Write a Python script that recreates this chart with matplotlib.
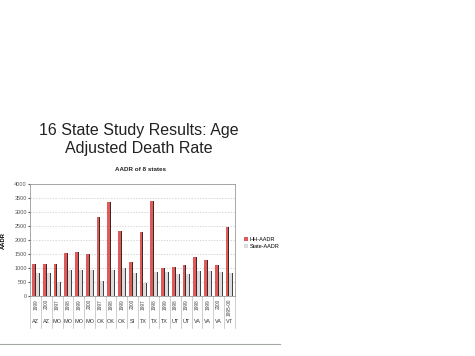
import numpy as np
import matplotlib.pyplot as plt
import matplotlib.transforms as mtransforms

plt.rcParams['font.family'] = ['Liberation Sans', 'DejaVu Sans']

## Category labels (two levels: year / state)
states = ['AZ', 'AZ', 'MO', 'MO', 'MO', 'MO', 'OK', 'OK', 'OK', 'SI',
          'TX', 'TX', 'TX', 'UT', 'UT', 'VA', 'VA', 'VA', 'VT']
years = ['1999', '2000', '1997', '1998', '1999', '2000', '1997', '1998', '1999', '2000',
         '1997', '1998', '1999', '1998', '1999', '1998', '1999', '2000', '1995-00']

## Values
hh_aadr = [1165, 1165, 1150, 1550, 1565, 1520, 2810, 3350, 2340, 1235,
           2295, 3390, 990, 1050, 1130, 1400, 1305, 1095, 2480]
state_aadr = [835, 825, 505, 940, 940, 920, 540, 950, 990, 810,
              480, 870, 870, 775, 790, 905, 895, 880, 810]

fig = plt.figure(figsize=(4.75, 3.56), dpi=100)

# slide title
fig.text(0.293, 0.608, '16 State Study Results: Age\nAdjusted Death Rate',
         ha='center', va='center', fontsize=11.5, color='#222222', linespacing=1.3)
fig.text(0.295, 0.525, 'AADR of 8 states', ha='center', va='center',
         fontsize=4.5, fontweight='bold', color='#222222')

ax = fig.add_axes([0.064, 0.168, 0.43, 0.315])

x = np.arange(len(states))
w = 0.36
side = 0.09
# red series with dark side face
ax.bar(x - 0.17, hh_aadr, w, color='#e05a5a', zorder=3, label='HH-AADR')
ax.bar(x - 0.17 + w / 2 - side / 2, hh_aadr, side, color='#3a2a2a', zorder=4)
# grey series with dark side face
ax.bar(x + 0.2, state_aadr, w, color='#dcdcdc', zorder=3, label='State-AADR')
ax.bar(x + 0.2 + w / 2 - side / 2, state_aadr, side, color='#444444', zorder=4)

ax.set_xlim(-0.5, len(states) - 0.5)
ax.set_ylim(0, 4000)
ax.set_yticks(np.arange(0, 4001, 500))
ax.tick_params(axis='y', labelsize=4, length=1.5, colors='#555555', pad=1)
ax.yaxis.grid(True, linestyle=(0, (2, 2)), color='#c8c8c8', linewidth=0.5)
ax.set_axisbelow(True)
for s in ax.spines.values():
    s.set_color('#999999')
    s.set_linewidth(0.6)
ax.set_ylabel('AADR', fontsize=4.2, fontweight='bold', labelpad=6)

# two-level category axis
ax.set_xticks(x)
ax.set_xticklabels(years, rotation=90, fontsize=3.4, color='#444444')
ax.tick_params(axis='x', length=0, pad=2)
trans = mtransforms.blended_transform_factory(ax.transData, ax.transAxes)
for i, st in enumerate(states):
    ax.text(i, -0.225, st, transform=trans, ha='center', va='center',
            fontsize=4, color='#333333')
for i in range(len(states) + 1):
    ax.plot([i - 0.5, i - 0.5], [0, -0.28], transform=trans, color='#bbbbbb',
            linewidth=0.5, clip_on=False)

fig.legend(loc='upper left', bbox_to_anchor=(0.505, 0.345), fontsize=4,
           frameon=False, handlelength=0.8, handleheight=0.8, labelspacing=0.3,
           handletextpad=0.3, borderpad=0.2)

# slide footer line
fig.add_artist(plt.Line2D([0, 0.59], [0.033, 0.033], color='#a0a8a0', linewidth=0.8))

fig.savefig('out.png', dpi=100)
